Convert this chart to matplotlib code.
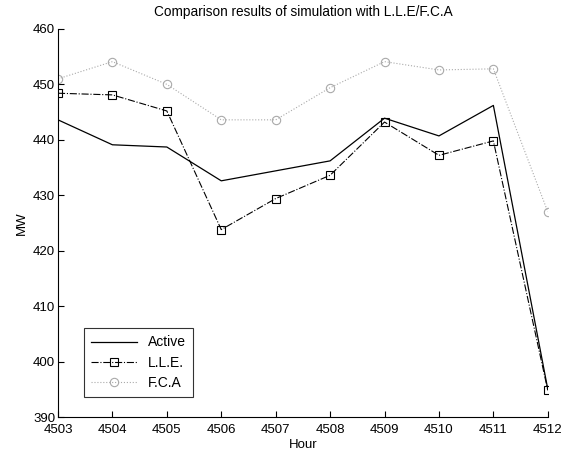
import matplotlib.pyplot as plt

plt.rcParams['font.family'] = ['Liberation Sans', 'DejaVu Sans']

hours = [4503, 4504, 4505, 4506, 4507, 4508, 4509, 4510, 4511, 4512]
active = [443.6, 439.1, 438.7, 432.6, 434.4, 436.2, 443.9, 440.7, 446.2, 395.0]
lle = [448.4, 448.1, 445.2, 423.8, 429.4, 433.6, 443.2, 437.2, 439.8, 394.8]
fca = [451.0, 454.1, 450.0, 443.6, 443.6, 449.4, 454.1, 452.6, 452.8, 427.0]

fig = plt.figure(figsize=(5.63, 4.59), dpi=100)
ax = fig.add_axes([0.103, 0.0915, 0.870, 0.8455])

ax.plot(hours, active, color='black', lw=0.9, label='Active')
ax.plot(hours, lle, color='black', lw=0.8, ls='-.', marker='s', ms=6,
        mfc='none', mec='black', mew=0.8, label='L.L.E.')
ax.plot(hours, fca, color='#aaaaaa', lw=0.8, ls=':', marker='o', ms=6,
        mfc='none', mec='#aaaaaa', mew=0.8, label='F.C.A')

ax.set_xlim(4503, 4512)
ax.set_ylim(390, 460)
ax.set_xticks(hours)
ax.set_yticks(range(390, 461, 10))
ax.tick_params(direction='in', labelsize=9.5, length=4)
ax.tick_params(axis='x', pad=5)
ax.tick_params(axis='y', pad=2)
for s in ['top', 'right']:
    ax.spines[s].set_visible(False)

ax.set_title('Comparison results of simulation with L.L.E/F.C.A', fontsize=9.8, pad=9)
ax.set_xlabel('Hour', fontsize=9.5, labelpad=2.5)
ax.set_ylabel('MW', fontsize=9.5)

leg = ax.legend(loc='lower left', bbox_to_anchor=(0.053, 0.052), borderaxespad=0,
                fancybox=False, edgecolor='black', fontsize=10, handlelength=3.3,
                labelspacing=0.45, borderpad=0.5)
leg.get_frame().set_linewidth(0.8)

fig.savefig('out.png', dpi=100)
